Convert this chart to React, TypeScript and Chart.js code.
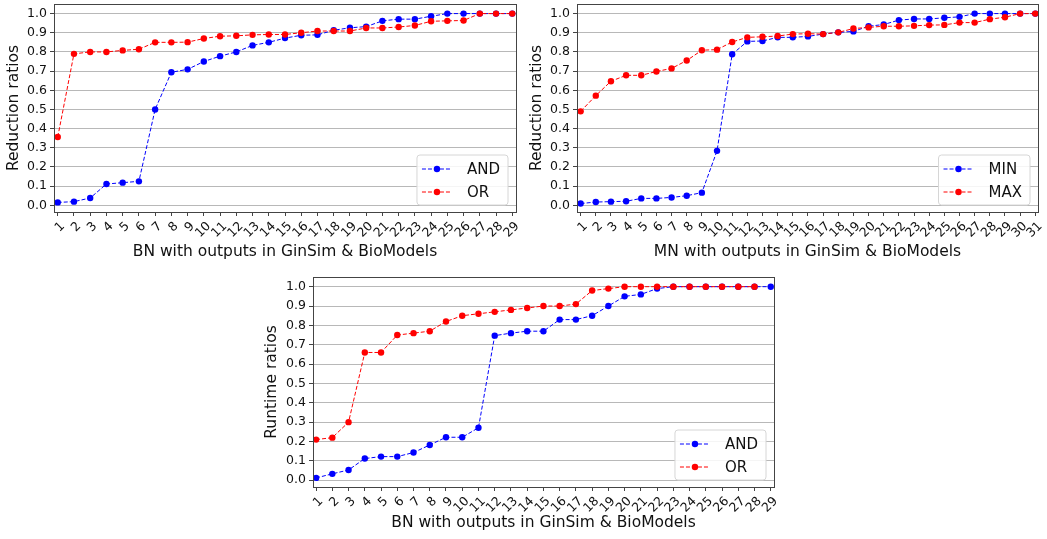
import React, { useEffect, useRef } from "react";
import { Chart, registerables } from "chart.js";

Chart.register(...registerables);

// ---------- data ----------
const bnIds = [1, 2, 3, 4, 5, 6, 7, 8, 9, 10, 11, 12, 13, 14, 15, 16, 17, 18, 19, 20, 21, 22, 23, 24, 25, 26, 27, 28, 29];
const mnIds = [1, 2, 3, 4, 5, 6, 7, 8, 9, 10, 11, 12, 13, 14, 15, 16, 17, 18, 19, 20, 21, 22, 23, 24, 25, 26, 27, 28, 29, 30, 31];
const yTickValues = [0, 0.1, 0.2, 0.3, 0.4, 0.5, 0.6, 0.7, 0.8, 0.9, 1.0];

const bnReductionAND = [0.015, 0.019, 0.038, 0.111, 0.118, 0.125, 0.5, 0.694, 0.709, 0.75, 0.778, 0.8, 0.834, 0.85, 0.872, 0.887, 0.889, 0.913, 0.926, 0.932, 0.962, 0.971, 0.971, 0.986, 1.0, 1.0, 1.0, 1.0, 1.0];
const bnReductionOR = [0.356, 0.79, 0.8, 0.8, 0.808, 0.814, 0.85, 0.85, 0.851, 0.87, 0.882, 0.884, 0.889, 0.891, 0.891, 0.9, 0.909, 0.909, 0.909, 0.925, 0.925, 0.93, 0.938, 0.96, 0.962, 0.964, 1.0, 1.0, 1.0];

const mnReductionMIN = [0.009, 0.017, 0.019, 0.021, 0.036, 0.036, 0.041, 0.05, 0.066, 0.284, 0.788, 0.855, 0.857, 0.876, 0.876, 0.881, 0.893, 0.902, 0.907, 0.934, 0.943, 0.966, 0.972, 0.972, 0.978, 0.983, 1.0, 1.0, 1.0, 1.0, 1.0];
const mnReductionMAX = [0.49, 0.572, 0.647, 0.678, 0.678, 0.698, 0.714, 0.755, 0.809, 0.812, 0.852, 0.876, 0.879, 0.883, 0.893, 0.895, 0.893, 0.902, 0.922, 0.928, 0.934, 0.934, 0.936, 0.94, 0.941, 0.953, 0.953, 0.971, 0.981, 1.0, 1.0];

const bnRuntimeAND = [0.012, 0.033, 0.053, 0.112, 0.122, 0.122, 0.143, 0.182, 0.222, 0.222, 0.271, 0.747, 0.76, 0.77, 0.77, 0.83, 0.83, 0.85, 0.9, 0.95, 0.96, 0.99, 1.0, 1.0, 1.0, 1.0, 1.0, 1.0, 1.0];
const bnRuntimeOR = [0.21, 0.22, 0.3, 0.66, 0.66, 0.75, 0.76, 0.77, 0.82, 0.85, 0.86, 0.87, 0.88, 0.89, 0.9, 0.9, 0.91, 0.98, 0.99, 1.0, 1.0, 1.0, 1.0, 1.0, 1.0, 1.0, 1.0, 1.0];

const BLUE = "#0000ff";
const RED = "#ff0000";
const FONT = "DejaVu Sans";
const TEXT = "#111";

type Spec = {
  box: { left: number; top: number; width: number; height: number };
  area: { left: number; top: number; right: number; bottom: number };
  ids: number[];
  series: { label: string; color: string; values: number[]; order: number }[];
  xTitle: string;
  yTitle: string;
  xMin: number;
  xMax: number;
  yTitlePad: number;
  xTitlePad: number;
};

const framePlugin = {
  id: "frameBox",
  afterDatasetsDraw(chart: any) {
    const { ctx, chartArea: a } = chart;
    ctx.save();
    ctx.strokeStyle = "#444";
    ctx.lineWidth = 1;
    ctx.strokeRect(Math.round(a.left) + 0.5, Math.round(a.top) + 0.5, Math.round(a.right - a.left), Math.round(a.bottom - a.top));
    ctx.restore();
  },
};

const boxLegendPlugin = {
  id: "boxLegend",
  afterDraw(chart: any) {
    const { ctx, chartArea: a } = chart;
    const items = chart.data.datasets;
    ctx.save();
    ctx.font = `15px "${FONT}"`;
    let tw = 0;
    items.forEach((d: any) => (tw = Math.max(tw, ctx.measureText(d.label).width)));
    const w = 50 + tw + 8;
    const h = 50;
    const x = a.right - 8 - w;
    const y = a.bottom - 7 - h;
    ctx.beginPath();
    const r = 3;
    ctx.moveTo(x + r, y);
    ctx.arcTo(x + w, y, x + w, y + h, r);
    ctx.arcTo(x + w, y + h, x, y + h, r);
    ctx.arcTo(x, y + h, x, y, r);
    ctx.arcTo(x, y, x + w, y, r);
    ctx.closePath();
    ctx.fillStyle = "rgba(255,255,255,0.85)";
    ctx.fill();
    ctx.strokeStyle = "#d6d6d6";
    ctx.lineWidth = 1;
    ctx.stroke();
    items.forEach((d: any, i: number) => {
      const cy = y + 14 + i * 23;
      ctx.strokeStyle = d.borderColor;
      ctx.lineWidth = 1;
      ctx.setLineDash([4, 2]);
      ctx.beginPath();
      ctx.moveTo(x + 5, cy);
      ctx.lineTo(x + 34, cy);
      ctx.stroke();
      ctx.setLineDash([]);
      ctx.fillStyle = d.borderColor;
      ctx.beginPath();
      ctx.arc(x + 20, cy, 3.2, 0, Math.PI * 2);
      ctx.fill();
      ctx.fillStyle = TEXT;
      ctx.textBaseline = "middle";
      ctx.textAlign = "left";
      ctx.fillText(d.label, x + 50, cy + 1);
    });
    ctx.restore();
  },
};

function makeConfig(s: Spec): any {
  const canvasRight = s.box.left + s.box.width;
  const canvasBottom = s.box.top + s.box.height;
  return {
    type: "line",
    data: {
      datasets: s.series.map((se) => ({
        label: se.label,
        data: se.values.map((v, i) => ({ x: s.ids[i], y: v })),
        borderColor: se.color,
        backgroundColor: se.color,
        pointBackgroundColor: se.color,
        pointBorderWidth: 0,
        pointRadius: 3.2,
        borderWidth: 1,
        borderDash: [4, 2],
        tension: 0,
        fill: false,
        order: se.order,
      })),
    },
    options: {
      animation: false,
      responsive: false,
      maintainAspectRatio: false,
      layout: {
        padding: {
          left: 0,
          bottom: 0,
          top: s.area.top - s.box.top,
          right: canvasRight - s.area.right,
        },
      },
      plugins: {
        legend: { display: false },
        tooltip: { enabled: false },
      },
      scales: {
        x: {
          type: "linear",
          min: s.xMin,
          max: s.xMax,
          afterBuildTicks: (scale: any) => {
            scale.ticks = s.ids.map((v) => ({ value: v }));
          },
          afterFit: (scale: any) => {
            scale.height = canvasBottom - s.area.bottom;
            scale.paddingLeft = 0;
            scale.paddingRight = 0;
          },
          ticks: {
            autoSkip: false,
            minRotation: 45,
            maxRotation: 45,
            padding: 3,
            labelOffset: 5,
            color: TEXT,
            font: { family: FONT, size: 12.5 },
            callback: (v: any) => String(v),
          },
          grid: {
            display: true,
            drawOnChartArea: false,
            drawTicks: true,
            tickLength: 4,
            tickColor: "#444",
          },
          border: { display: true, color: "#444" },
          title: {
            display: true,
            text: s.xTitle,
            color: TEXT,
            font: { family: FONT, size: 15.5 },
            padding: { top: 0, bottom: s.xTitlePad },
          },
        },
        y: {
          type: "linear",
          min: -0.035,
          max: 1.05,
          afterBuildTicks: (scale: any) => {
            scale.ticks = yTickValues.map((v) => ({ value: v }));
          },
          afterFit: (scale: any) => {
            scale.width = s.area.left - s.box.left;
            scale.paddingTop = 0;
            scale.paddingBottom = 0;
          },
          ticks: {
            padding: 3,
            color: TEXT,
            font: { family: FONT, size: 12.5 },
            callback: (v: any) => Number(v).toFixed(1),
          },
          grid: {
            color: "#b8b8b8",
            lineWidth: 1,
            drawTicks: true,
            tickLength: 4,
            tickColor: "#444",
          },
          border: { display: true, color: "#444" },
          title: {
            display: true,
            text: s.yTitle,
            color: TEXT,
            font: { family: FONT, size: 15.5 },
            padding: { top: s.yTitlePad, bottom: 0 },
          },
        },
      },
    },
    plugins: [framePlugin, boxLegendPlugin],
  };
}

const specs: Spec[] = [
  {
    box: { left: 0, top: 0, width: 520, height: 265 },
    area: { left: 54, top: 3, right: 516, bottom: 212 },
    ids: bnIds,
    series: [
      { label: "AND", color: BLUE, values: bnReductionAND, order: 2 },
      { label: "OR", color: RED, values: bnReductionOR, order: 1 },
    ],
    xTitle: "BN with outputs in GinSim & BioModels",
    yTitle: "Reduction ratios",
    xMin: 0.77,
    xMax: 29.23,
    yTitlePad: 5,
    xTitlePad: 4,
  },
  {
    box: { left: 522, top: 0, width: 525, height: 265 },
    area: { left: 577, top: 3, right: 1038, bottom: 212 },
    ids: mnIds,
    series: [
      { label: "MIN", color: BLUE, values: mnReductionMIN, order: 2 },
      { label: "MAX", color: RED, values: mnReductionMAX, order: 1 },
    ],
    xTitle: "MN with outputs in GinSim & BioModels",
    yTitle: "Reduction ratios",
    xMin: 0.76,
    xMax: 31.18,
    yTitlePad: 6,
    xTitlePad: 4,
  },
  {
    box: { left: 250, top: 268, width: 540, height: 271 },
    area: { left: 313, top: 277, right: 774, bottom: 487 },
    ids: bnIds,
    series: [
      { label: "AND", color: BLUE, values: bnRuntimeAND, order: 2 },
      { label: "OR", color: RED, values: bnRuntimeOR, order: 1 },
    ],
    xTitle: "BN with outputs in GinSim & BioModels",
    yTitle: "Runtime ratios",
    xMin: 0.81,
    xMax: 29.2,
    yTitlePad: 12.5,
    xTitlePad: 6.4,
  },
];

function Panel({ spec }: { spec: Spec }) {
  const ref = useRef<HTMLCanvasElement | null>(null);
  useEffect(() => {
    if (!ref.current) return;
    const chart = new Chart(ref.current, makeConfig(spec));
    return () => chart.destroy();
  }, [spec]);
  return (
    <div
      style={{
        position: "absolute",
        left: spec.box.left,
        top: spec.box.top,
        width: spec.box.width,
        height: spec.box.height,
      }}
    >
      <canvas ref={ref} width={spec.box.width} height={spec.box.height} style={{ display: "block" }} />
    </div>
  );
}

export default function App() {
  return (
    <div style={{ position: "fixed", left: 0, top: 0, width: 1047, height: 539, background: "#fff", overflow: "hidden" }}>
      {specs.map((s, i) => (
        <Panel key={i} spec={s} />
      ))}
    </div>
  );
}
